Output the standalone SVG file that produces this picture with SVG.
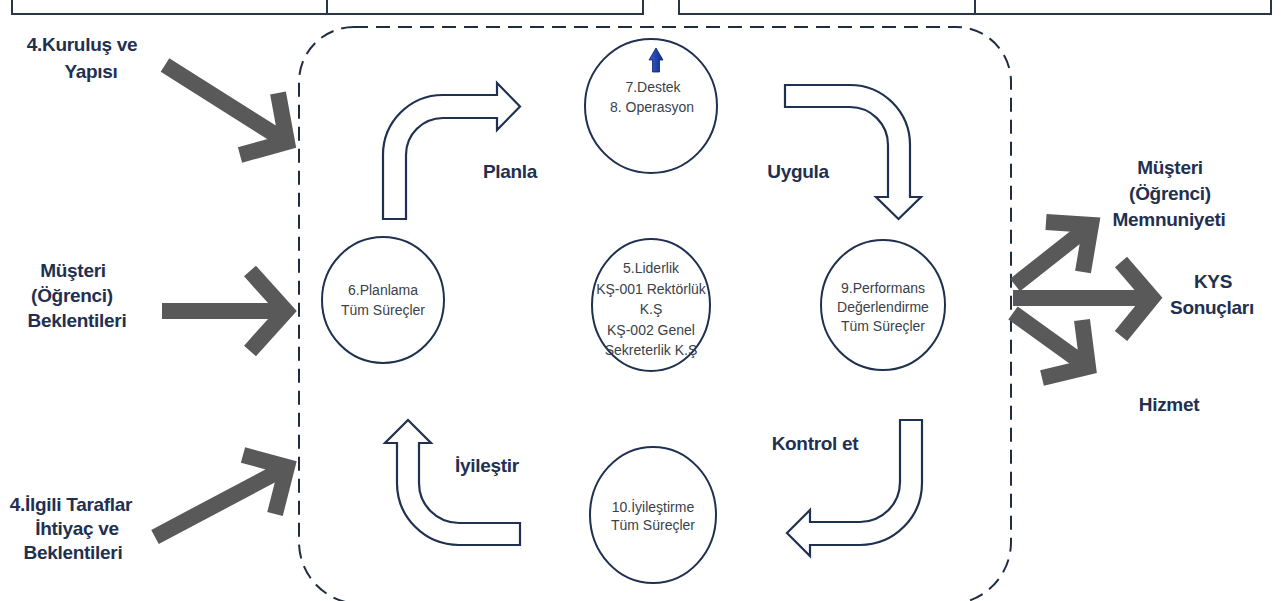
<svg xmlns="http://www.w3.org/2000/svg" width="1285" height="601" viewBox="0 0 1285 601">
<defs>
<style>
.lbl{font-family:"Liberation Sans",Arial,sans-serif;font-weight:bold;font-size:19px;fill:#1f3050;text-anchor:middle;letter-spacing:-0.3px}
.ct{font-family:"Liberation Sans",Arial,sans-serif;font-size:14px;fill:#3a3f4a;text-anchor:middle}
.circ{fill:#ffffff;stroke:#1f3050;stroke-width:2}
.blk{fill:#ffffff;stroke:#1f3050;stroke-width:2.2;stroke-linejoin:miter}
.gar{fill:none;stroke:#595959;stroke-width:16;stroke-linejoin:miter;stroke-linecap:butt}
.brk{fill:none;stroke:#2a3646;stroke-width:2}
</style>
<linearGradient id="bl" x1="0" y1="0" x2="1" y2="0">
<stop offset="0" stop-color="#3a5fd0"/>
<stop offset="1" stop-color="#0c2a8c"/>
</linearGradient>
</defs>
<rect width="1285" height="601" fill="#ffffff"/>

<g id="top-brackets" class="brk">
<path d="M12 0 V14 H643 V0 M327 0 V14"/>
<path d="M679 0 V14 H1271 V0 M975 0 V14"/>
</g>

<g id="frame">
<path d="M354 27 H956 A55 55 0 0 1 1011 82 V542 A62 62 0 0 1 949 604 H361 A62 62 0 0 1 299 542 V82 A55 55 0 0 1 354 27 Z" fill="none" stroke="#1f2d40" stroke-width="2" stroke-dasharray="14 8"/>
</g>

<g id="connectors">
<path class="gar" d="M165 65 L287 142 M278 93 L287 142 L240 155"/>
<path class="gar" d="M162 311 L286 311 M250 271 L286 311 L250 351"/>
<path class="gar" d="M155 537 L287 467 M243 455 L287 467 L275 514"/>
<path class="gar" d="M1015 285 L1091 225 M1046 222 L1091 225 L1083 272"/>
<path class="gar" d="M1013 298 L1152 298 M1121 262 L1152 298 L1121 336"/>
<path class="gar" d="M1013 313 L1088 367 M1082 320 L1088 367 L1042 378"/>
<path id="arr-planla" class="blk" d="M383 219 L383 155 A60 60 0 0 1 443 95 L497 95 L497 83 L520 106.5 L497 130 L497 118 L443 118 A37 37 0 0 0 406 155 L406 219 Z"/>
<path id="arr-uygula" class="blk" d="M785 85 L850 85 A60 60 0 0 1 910 145 L910 197 L921 197 L898.5 219 L876 197 L888 197 L888 145 A38 38 0 0 0 850 107 L785 107 Z"/>
<path id="arr-kontrol" class="blk" d="M900 420 L922 420 L922 483 A62 62 0 0 1 860 545 L810 545 L810 556 L787 533 L810 510 L810 522 L860 522 A40 40 0 0 0 900 482 Z"/>
<path id="arr-iyilestir" class="blk" d="M520 545 L459 545 A62 62 0 0 1 397 483 L397 443 L385 443 L408 420 L431 443 L419 443 L419 483 A40 40 0 0 0 459 523 L520 523 Z"/>
</g>

<g id="n-destek">
<ellipse class="circ" cx="651" cy="106" rx="66" ry="67"/>
<path d="M649 60 L656 48 L663 60 L659.5 60 L659.5 72 L652.5 72 L652.5 60 Z" fill="url(#bl)" stroke="#0a2070" stroke-width="0.8"/>
<text class="ct" x="653" y="92">7.Destek</text>
<text class="ct" x="652" y="112">8. Operasyon</text>
</g>

<g id="n-planlama">
<ellipse class="circ" cx="383" cy="300" rx="61" ry="63"/>
<text class="ct" x="383" y="295">6.Planlama</text>
<text class="ct" x="383" y="315">Tüm Süreçler</text>
</g>

<g id="n-liderlik">
<ellipse class="circ" cx="651" cy="305" rx="59" ry="66"/>
<text class="ct" x="651" y="273">5.Liderlik</text>
<text class="ct" x="651" y="294">KŞ-001 Rektörlük</text>
<text class="ct" x="651" y="314">K.Ş</text>
<text class="ct" x="651" y="335">KŞ-002 Genel</text>
<text class="ct" x="651" y="355">Sekreterlik K.Ş</text>
</g>

<g id="n-performans">
<ellipse class="circ" cx="883" cy="305" rx="62" ry="65"/>
<text class="ct" x="883" y="293">9.Performans</text>
<text class="ct" x="883" y="312">Değerlendirme</text>
<text class="ct" x="883" y="331">Tüm Süreçler</text>
</g>

<g id="n-iyilestirme">
<ellipse class="circ" cx="653" cy="515" rx="63" ry="68"/>
<text class="ct" x="653" y="512">10.İyileştirme</text>
<text class="ct" x="653" y="530">Tüm Süreçler</text>
</g>

<g id="labels">
<text class="lbl" x="510" y="178">Planla</text>
<text class="lbl" x="798" y="178">Uygula</text>
<text class="lbl" x="815" y="450">Kontrol et</text>
<text class="lbl" x="487" y="472">İyileştir</text>
</g>

<g id="n-kurulus">
<text class="lbl" x="82" y="51">4.Kuruluş ve</text>
<text class="lbl" x="91" y="78">Yapısı</text>
</g>
<g id="n-beklenti">
<text class="lbl" x="73" y="277">Müşteri</text>
<text class="lbl" x="72" y="302">(Öğrenci)</text>
<text class="lbl" x="77" y="327">Beklentileri</text>
</g>
<g id="n-ilgili">
<text class="lbl" x="71" y="511">4.İlgili Taraflar</text>
<text class="lbl" x="77" y="535">İhtiyaç ve</text>
<text class="lbl" x="73" y="559">Beklentileri</text>
</g>
<g id="n-memnuniyet">
<text class="lbl" x="1170" y="174">Müşteri</text>
<text class="lbl" x="1170" y="200">(Öğrenci)</text>
<text class="lbl" x="1169" y="226">Memnuniyeti</text>
</g>
<g id="n-kys">
<text class="lbl" x="1213" y="288">KYS</text>
<text class="lbl" x="1212" y="314">Sonuçları</text>
</g>
<g id="n-hizmet">
<text class="lbl" x="1169" y="411">Hizmet</text>
</g>
</svg>
